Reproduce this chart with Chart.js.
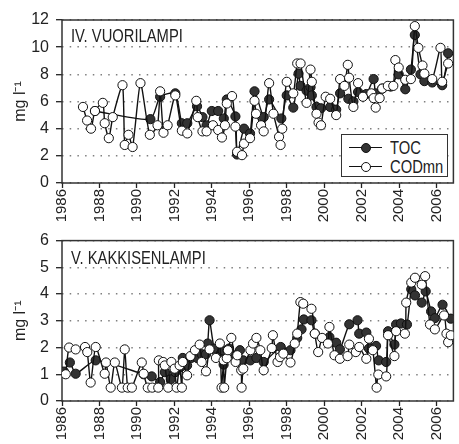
<!DOCTYPE html>
<html>
<head>
<meta charset="utf-8">
<script src="https://cdn.jsdelivr.net/npm/chart.js@4/dist/chart.umd.min.js"></script>
<style>
  body { margin: 0; background: #fff; }
  #wrap { position: relative; width: 459px; height: 444px; overflow: hidden;
          font-family: 'Liberation Sans', Arial, sans-serif; color: #222; }
  #wrap canvas { position: absolute; left: 0; }
  .narrow { display: inline-block; transform: scaleX(0.82); transform-origin: 0 50%; }
  .panel-title { position: absolute; left: 71px; font-size: 18px; line-height: 18px; white-space: nowrap; }
  .legend { position: absolute; left: 341px; top: 134px; width: 105px; height: 41px;
            border: 1.5px solid #333; background: #fff; }
  .legend .row { position: absolute; left: 0; width: 100%; height: 20px; }
  .legend .ln { position: absolute; left: 7px; width: 33px; top: 9px; height: 1.4px; background: #111; }
  .legend .dot { position: absolute; left: 19px; top: 5px; width: 8px; height: 8px; border: 1px solid #111; border-radius: 50%; }
  .legend .txt { position: absolute; left: 48px; top: 0; font-size: 18px; line-height: 20px; white-space: nowrap; }
</style>
</head>
<body>
<div id="wrap">
  <canvas id="vuori" width="459" height="230" style="top:0"></canvas>
  <canvas id="kakki" width="459" height="220" style="top:224px"></canvas>
  <div class="panel-title" style="top:27px"><span class="narrow">IV. VUORILAMPI</span></div>
  <div class="panel-title" style="top:249px"><span class="narrow">V. KAKKISENLAMPI</span></div>
  <div class="legend">
    <div class="row" style="top:3px"><div class="ln"></div><div class="dot" style="background:#333"></div><div class="txt"><span class="narrow">TOC</span></div></div>
    <div class="row" style="top:22px"><div class="ln"></div><div class="dot" style="background:#fff"></div><div class="txt"><span class="narrow">CODmn</span></div></div>
  </div>
</div>
<script>
// IV. Vuorilampi, mg/l
const vuoriCodYears = [1987.12, 1987.34, 1987.55, 1987.76, 1988.18, 1988.28, 1988.5, 1988.71, 1989.23, 1989.35,
  1989.55, 1989.77, 1990.19, 1990.69, 1991.1, 1991.24, 1991.42, 1991.64, 1992.05, 1992.4, 1992.69, 1993.17,
  1993.25, 1993.5, 1993.72, 1994.06, 1994.34, 1994.54, 1994.7, 1994.8, 1995.08, 1995.26, 1995.35, 1995.61,
  1995.72, 1996.04, 1996.28, 1996.36, 1996.63, 1996.77, 1997.06, 1997.29, 1997.59, 1997.67, 1997.76, 1998.0,
  1998.35, 1998.56, 1998.74, 1999.06, 1999.27, 1999.34, 1999.59, 1999.7, 1999.83, 2000.08, 2000.32, 2000.64,
  2000.85, 2001.08, 2001.26, 2001.33, 2001.56, 2001.81, 2002.07, 2002.52, 2002.64, 2002.75, 2002.96, 2003.1,
  2003.4, 2003.69, 2003.8, 2003.98, 2004.33, 2004.63, 2004.84, 2005.03, 2005.25, 2005.35, 2005.77, 2006.21,
  2006.3, 2006.62];
const vuoriCod = [5.6, 4.6, 4.0, 5.3, 5.9, 4.4, 3.3, 4.85, 7.2, 2.8,
  3.55, 2.65, 7.35, 3.55, 4.25, 6.75, 3.7, 4.25, 6.45, 3.85, 3.65, 6.05,
  4.85, 3.8, 3.8, 4.25, 3.9, 3.35, 4.25, 5.85, 6.4, 4.15, 2.3, 2.05,
  2.9, 3.3, 6.05, 5.1, 4.25, 3.8, 7.35, 5.1, 3.4, 2.8, 4.0, 7.45,
  6.6, 8.8, 8.8, 5.9, 8.35, 7.45, 5.1, 4.45, 4.25, 6.35, 6.2, 5.0,
  7.65, 7.15, 8.7, 7.75, 5.6, 7.35, 6.35, 6.6, 6.25, 5.55, 6.25, 6.95,
  7.15, 7.15, 9.05, 8.5, 7.6, 7.65, 11.55, 9.95, 8.65, 8.05, 7.65, 9.95,
  7.45, 8.8];
const vuoriTocYears = [1987.76, 1990.72, 1991.24, 1992.05, 1992.4, 1992.69, 1993.21, 1993.5, 1993.72, 1994.0,
  1994.34, 1994.64, 1994.8, 1995.26, 1995.35, 1995.72, 1996.04, 1996.28, 1996.77, 1997.06, 1997.71, 1998.0,
  1998.35, 1998.63, 1998.74, 1999.06, 1999.27, 1999.34, 1999.59, 1999.83, 2000.32, 2000.64, 2000.85, 2001.29,
  2001.56, 2001.81, 2002.25, 2002.64, 2002.75, 2003.1, 2003.55, 2003.98, 2004.33, 2004.63, 2004.84, 2005.14,
  2005.35, 2005.77, 2006.3, 2006.62];
const vuoriToc = [5.3, 4.7, 6.35, 6.6, 4.4, 4.4, 5.65, 4.85, 4.25, 5.3,
  5.3, 4.75, 6.15, 4.9, 2.1, 4.0, 3.65, 6.75, 4.85, 6.15, 4.75, 6.45,
  5.55, 8.05, 7.15, 6.8, 7.05, 6.45, 5.6, 5.5, 5.6, 5.4, 6.6, 6.2,
  6.0, 6.7, 6.55, 7.65, 6.6, 6.95, 7.1, 8.0, 6.9, 8.35, 10.9, 8.0,
  7.5, 7.4, 7.2, 9.55];

// V. Kakkisenlampi, mg/l
const kakkiCodYears = [1986.2, 1986.38, 1986.73, 1987.23, 1987.35, 1987.53, 1987.8, 1988.28, 1988.35, 1988.6,
  1988.82, 1989.2, 1989.35, 1989.51, 1989.73, 1990.26, 1990.36, 1990.58, 1990.82, 1991.14, 1991.17, 1991.4,
  1991.49, 1991.67, 1991.84, 1992.01, 1992.12, 1992.28, 1992.4, 1992.45, 1992.68, 1992.86, 1993.1, 1993.35,
  1993.46, 1993.69, 1993.88, 1994.22, 1994.43, 1994.52, 1994.63, 1994.66, 1994.8, 1994.86, 1995.04, 1995.27,
  1995.36, 1995.57, 1995.59, 1995.68, 1996.06, 1996.2, 1996.38, 1996.59, 1996.77, 1997.2, 1997.26, 1997.51,
  1997.64, 1997.82, 1998.2, 1998.43, 1998.56, 1998.73, 1998.88, 1999.32, 1999.5, 1999.68, 1999.89, 2000.2,
  2000.28, 2000.55, 2000.84, 2001.25, 2001.34, 2001.69, 2001.87, 2002.25, 2002.39, 2002.6, 2002.8, 2002.89,
  2003.31, 2003.41, 2003.75, 2003.84, 2004.31, 2004.38, 2004.65, 2004.85, 2005.21, 2005.39, 2005.65, 2005.91,
  2006.4, 2006.53, 2006.62, 2006.76];
const kakkiCod = [1.0, 2.0, 1.93, 2.02, 1.83, 0.69, 2.02, 1.02, 1.44, 0.5,
  1.44, 0.5, 1.93, 0.5, 0.5, 1.44, 1.02, 0.5, 0.5, 0.5, 1.52, 1.46,
  1.33, 0.5, 1.46, 1.21, 0.5, 1.33, 0.5, 1.46, 0.96, 1.68, 1.9, 2.11,
  1.46, 1.11, 1.93, 1.61, 2.15, 0.5, 1.52, 0.5, 1.6, 1.9, 2.36, 1.46,
  1.71, 1.15, 0.5, 1.21, 1.9, 2.15, 2.36, 1.9, 1.15, 1.98, 2.46, 1.46,
  1.64, 1.77, 1.44, 2.15, 2.52, 3.7, 3.64, 3.45, 2.52, 1.83, 2.36, 2.15,
  2.77, 1.71, 1.58, 1.68, 2.11, 1.83, 2.02, 1.58, 2.33, 1.9, 0.5, 0.99,
  0.92, 2.46, 1.68, 2.61, 2.52, 3.68, 4.43, 4.61, 4.35, 4.67, 2.86, 2.68,
  3.2, 2.52, 2.2, 2.46];
const kakkiTocYears = [1986.1, 1986.42, 1986.73, 1987.8, 1990.36, 1990.79, 1991.24, 1991.49, 1991.81, 1992.05,
  1992.33, 1992.45, 1992.68, 1992.9, 1993.24, 1993.46, 1993.69, 1993.78, 1993.88, 1994.13, 1994.48, 1994.57,
  1994.63, 1994.84, 1994.92, 1995.27, 1995.5, 1995.68, 1996.06, 1996.38, 1996.77, 1997.68, 1998.2, 1998.56,
  1998.79, 1998.91, 1999.32, 1999.5, 2000.28, 2000.64, 2000.84, 2001.34, 2001.78, 2001.87, 2002.25, 2002.39,
  2002.77, 2002.91, 2003.31, 2003.41, 2003.75, 2003.84, 2004.1, 2004.42, 2004.65, 2004.85, 2005.21, 2005.42,
  2005.71, 2005.91, 2006.32, 2006.76];
const kakkiToc = [1.1, 1.44, 1.02, 1.52, 1.0, 0.92, 0.71, 1.08, 0.81, 1.08,
  1.27, 1.61, 1.33, 1.61, 1.6, 1.75, 1.75, 2.15, 3.02, 1.96, 1.77, 1.9,
  1.36, 1.9, 1.96, 1.71, 1.9, 1.52, 1.52, 1.61, 1.46, 2.02, 1.9, 2.36,
  2.68, 3.05, 3.02, 2.52, 2.39, 2.18, 1.93, 2.87, 3.02, 2.52, 2.56, 1.96,
  2.06, 1.52, 1.46, 2.61, 2.11, 2.86, 2.9, 2.86, 4.18, 3.95, 3.68, 4.1,
  3.35, 3.1, 3.6, 3.08];

const FONT = "'Liberation Sans', Arial, sans-serif";
const INK = '#222';

// box around the plot area, drawn under the markers
const framePlugin = {
  id: 'frame',
  beforeDatasetsDraw(chart) {
    const { ctx, chartArea: a } = chart;
    ctx.save();
    ctx.strokeStyle = '#333';
    ctx.lineWidth = 1.5;
    ctx.strokeRect(a.left, a.top, a.right - a.left, a.bottom - a.top);
    ctx.restore();
  }
};

const toPoints = (xs, ys) => xs.map((x, i) => ({ x, y: ys[i] }));

function makePanel(id, codYears, cod, tocYears, toc, yMax, yStep, padTop, xAxisHeight) {
  const ctx = document.getElementById(id).getContext('2d');
  return new Chart(ctx, {
    type: 'line',
    data: {
      datasets: [
        {
          label: 'CODmn',
          data: toPoints(codYears, cod),
          borderColor: '#111',
          borderWidth: 1.4,
          pointRadius: 4.6,
          pointBackgroundColor: '#fff',
          pointBorderColor: '#111',
          pointBorderWidth: 1,
          tension: 0.2
        },
        {
          label: 'TOC',
          data: toPoints(tocYears, toc),
          borderColor: '#111',
          borderWidth: 1.4,
          pointRadius: 4.6,
          pointBackgroundColor: '#333',
          pointBorderColor: '#111',
          pointBorderWidth: 1,
          tension: 0.2
        }
      ]
    },
    options: {
      responsive: false,
      devicePixelRatio: 1,
      animation: false,
      layout: { padding: { top: padTop, right: 1, left: 0, bottom: 0 } },
      plugins: { legend: { display: false }, tooltip: { enabled: false } },
      scales: {
        x: {
          type: 'linear',
          min: 1986,
          max: 2006.9,
          border: { display: false },
          grid: { drawOnChartArea: false, tickLength: 5, tickWidth: 1.3, tickColor: INK },
          ticks: {
            stepSize: 2, includeBounds: false, autoSkip: false,
            minRotation: 90, maxRotation: 90, padding: 1,
            color: INK, font: { family: FONT, size: 15 },
            callback: v => String(v)
          },
          afterFit: s => { s.height = xAxisHeight; }
        },
        y: {
          min: 0,
          max: yMax,
          border: { display: false, dash: [1.5, 6.2] },
          grid: { color: 'rgba(0,0,0,0.5)', lineWidth: 1.4, tickLength: 6, tickWidth: 1.3, tickColor: INK },
          ticks: { stepSize: yStep, padding: 7, color: INK, font: { family: FONT, size: 16 } },
          title: {
            display: true, text: 'mg l⁻¹', color: INK,
            font: { family: FONT, size: 16 }, padding: { top: 11, bottom: 0 }
          },
          afterFit: s => { s.width = 62; }
        }
      }
    },
    plugins: [framePlugin]
  });
}

makePanel('vuori', vuoriCodYears, vuoriCod, vuoriTocYears, vuoriToc, 12, 2, 20, 47);
makePanel('kakki', kakkiCodYears, kakkiCod, kakkiTocYears, kakkiToc, 6, 1, 16, 43);
</script>
</body>
</html>
